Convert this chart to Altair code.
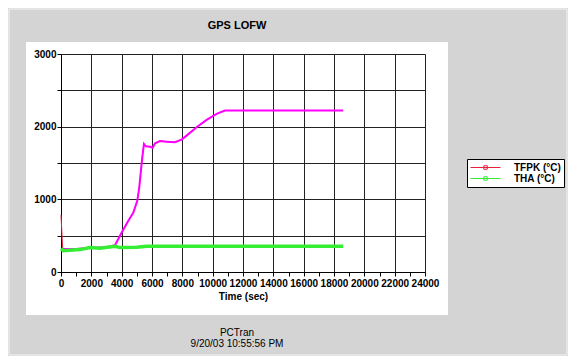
import altair as alt
import pandas as pd

# ---- data ----
t_tfpk = [0, 110, 200, 1000, 2000, 3000, 3560, 4000, 4440, 4770, 5030, 5160, 5270,
          5360, 5470, 5600, 5870, 6040, 6200, 6525, 6965, 7510, 7950, 8280, 8940,
          9600, 10260, 10810, 12000, 14000, 16000, 18600]
v_tfpk = [787, 322, 318, 318, 335, 340, 368, 543, 704, 819, 980, 1164, 1394,
          1578, 1762, 1730, 1725, 1707, 1771, 1803, 1794, 1785, 1822, 1877, 1992,
          2093, 2176, 2222, 2222, 2222, 2222, 2222]
t_tha = [0, 150, 1250, 1910, 2570, 3560, 3890, 4990, 5650, 8000, 12000, 16000, 18600]
v_tha = [322, 292, 308, 336, 327, 355, 336, 340, 354, 354, 354, 354, 354]

series_names = ["TFPK (°C)", "THA (°C)"]
series_colors = ["#e8203c", "#33ee33"]
title_text = "GPS LOFW"
x_title = "Time (sec)"
footer_lines = ["PCTran", "9/20/03 10:55:56 PM"]
x_tick_values = list(range(0, 24001, 1000))
y_tick_values = list(range(0, 3001, 500))

df = pd.concat([
    pd.DataFrame({"t": t_tfpk, "v": v_tfpk, "series": series_names[0]}),
    pd.DataFrame({"t": t_tha, "v": v_tha, "series": series_names[1]}),
], ignore_index=True)

FONT = "Liberation Sans"
GRAY = "#d4d4d4"

x_scale = alt.Scale(domain=[0, 24000], nice=False)
y_scale = alt.Scale(domain=[0, 3000], nice=False)
color_scale = alt.Scale(domain=series_names, range=series_colors)

x_axis = alt.Axis(
    values=x_tick_values,
    labelExpr="datum.value % 2000 === 0 ? datum.label : ''",
    format="d",
    labelOverlap=False,
    labelFlush=False,
    tickCount=25,
    grid=True,
    gridColor={"condition": {"test": "datum.value % 2000 === 0", "value": "#222222"},
               "value": "rgba(0,0,0,0)"},
    title=x_title,
)
y_axis = alt.Axis(
    values=y_tick_values,
    labelExpr="datum.value % 1000 === 0 ? datum.label : ''",
    format="d",
    labelOverlap=False,
    labelFlush=False,
    tickCount=7,
    grid=True,
    gridColor="#222222",
    title=None,
)

base = alt.Chart(df)
one = pd.DataFrame({"a": [0]})

# gray frame around the white panel (chart background is white)
frame_top = alt.Chart(one).mark_rect(color=GRAY).encode(
    x=alt.value(-53), x2=alt.value(507), y=alt.value(-46), y2=alt.value(-12))
frame_bottom = alt.Chart(one).mark_rect(color=GRAY).encode(
    x=alt.value(-53), x2=alt.value(507), y=alt.value(261), y2=alt.value(302))
frame_left = alt.Chart(one).mark_rect(color=GRAY).encode(
    x=alt.value(-53), x2=alt.value(-35), y=alt.value(-12), y2=alt.value(261))
frame_right = alt.Chart(one).mark_rect(color=GRAY).encode(
    x=alt.value(387), x2=alt.value(507), y=alt.value(-12), y2=alt.value(261))
bevel = alt.Chart(one).mark_rect(fill="transparent", stroke="#f4f4f4", strokeWidth=1).encode(
    x=alt.value(-52), x2=alt.value(506), y=alt.value(-45), y2=alt.value(301))

X = alt.X("t:Q", scale=x_scale, axis=x_axis)
Y = alt.Y("v:Q", scale=y_scale, axis=y_axis)

red_line = base.transform_filter(alt.datum.series == series_names[0]).mark_line(
    strokeWidth=1
).encode(
    x=X, y=Y,
    color=alt.Color("series:N", scale=color_scale, legend=alt.Legend(
        title=None, orient="none", legendX=406, legendY=105,
        symbolType="M-1,0H5M1.65,-0.35h0.7v0.7h-0.7z", symbolSize=100,
        symbolStrokeWidth=1, labelOffset=33, labelFont=FONT, labelFontWeight="bold",
        labelFontSize=10, labelColor="black", fillColor="white", strokeColor="black",
        padding=3, rowPadding=0, offset=0, labelLimit=200,
    )),
)

magenta_line = base.transform_filter(
    (alt.datum.series == series_names[0]) & (alt.datum.t > 50)
).mark_line(strokeWidth=2, color="#ff00ff").encode(x=X, y=Y)

green_line = base.transform_filter(alt.datum.series == series_names[1]).mark_line(
    strokeWidth=3.5
).encode(x=X, y=Y, color=alt.Color("series:N", scale=color_scale))

title = alt.Chart(pd.DataFrame({"s": [title_text]})).mark_text(
    font=FONT, fontSize=11, fontWeight="bold", color="black", align="center", baseline="middle"
).encode(text="s:N", x=alt.value(176), y=alt.value(-28))

footer1 = alt.Chart(pd.DataFrame({"s": [footer_lines[0]]})).mark_text(
    font=FONT, fontSize=10, color="black", align="center", baseline="middle"
).encode(text="s:N", x=alt.value(176), y=alt.value(279))

footer2 = alt.Chart(pd.DataFrame({"s": [footer_lines[1]]})).mark_text(
    font=FONT, fontSize=10, color="black", align="center", baseline="middle"
).encode(text="s:N", x=alt.value(176), y=alt.value(290))

chart = alt.layer(
    frame_top, frame_bottom, frame_left, frame_right, bevel,
    red_line, magenta_line, green_line, title, footer1, footer2
).properties(
    width=364, height=218,
    autosize=alt.AutoSizeParams(type="none"),
    padding={"left": 53, "top": 46, "right": 143, "bottom": 84},
    background="white",
).configure_view(strokeWidth=0).configure_axis(
    domainColor="black", tickColor="black", tickSize=4,
    labelFont=FONT, labelFontWeight="bold", labelFontSize=10, labelColor="black",
    titleFont=FONT, titleFontWeight="bold", titleFontSize=10, titleColor="black",
).configure_axisX(labelPadding=2, titlePadding=3).configure_axisY(labelPadding=1)

chart.save("out.html", embed_options={"renderer": "svg", "actions": False})
